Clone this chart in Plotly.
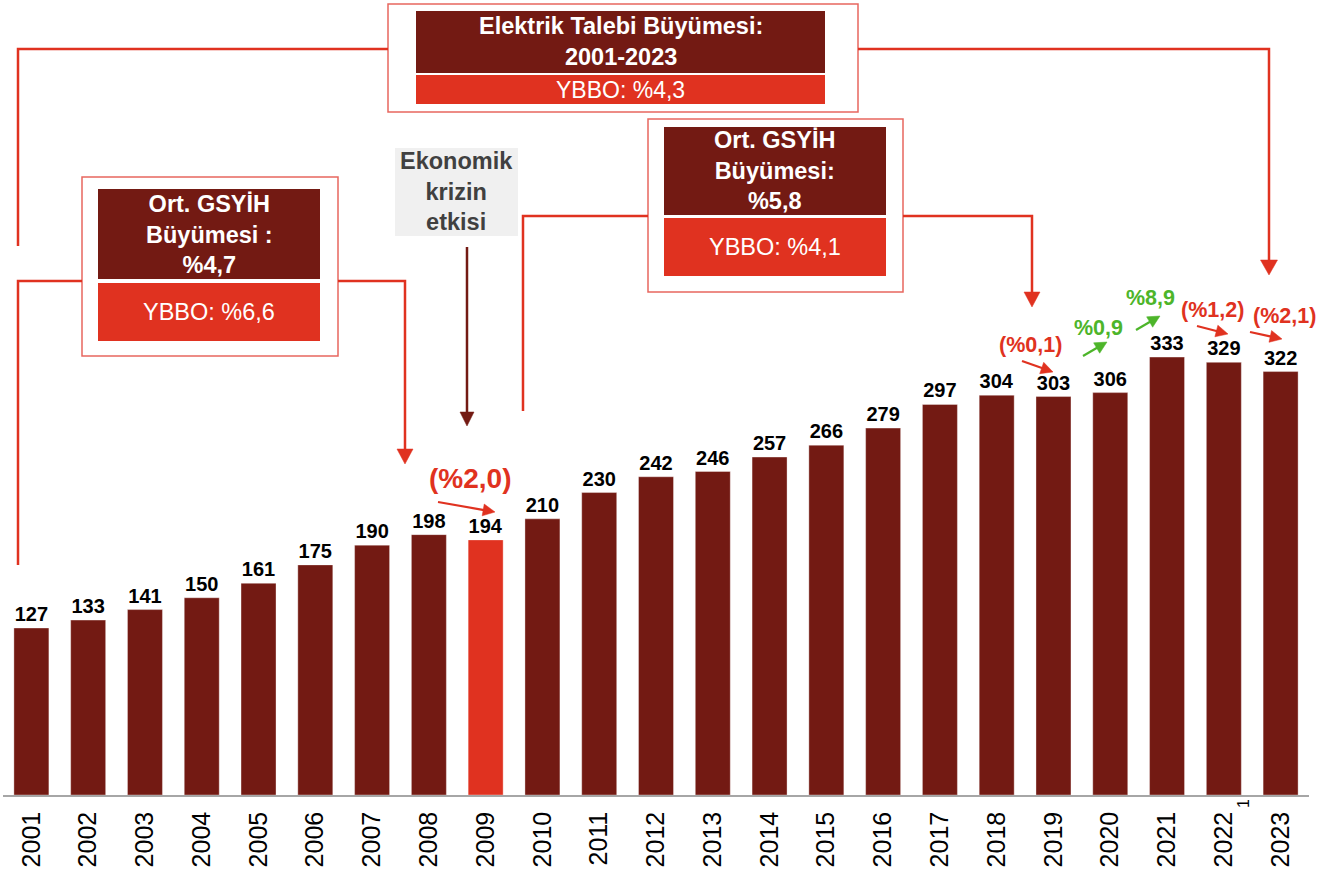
import math
import plotly.graph_objects as go

# ---------------- data ----------------
years = [str(y) for y in range(2001, 2024)]
demand = [127, 133, 141, 150, 161, 175, 190, 198, 194, 210, 230, 242,
          246, 257, 266, 279, 297, 304, 303, 306, 333, 329, 322]
highlight_year = "2009"

growth_labels = ["(%2,0)", "(%0,1)", "%0,9", "%8,9", "(%1,2)", "(%2,1)"]
growth_positive = [False, False, True, True, False, False]

box_titles = ["Elektrik Talebi Büyümesi:<br>2001-2023",
              "Ort. GSYİH<br>Büyümesi :<br>%4,7",
              "Ort. GSYİH<br>Büyümesi:<br>%5,8"]
box_ybbo = ["YBBO: %4,3", "YBBO: %6,6", "YBBO: %4,1"]
crisis_label = "Ekonomik<br>krizin<br>etkisi"

# ---------------- style ----------------
DARK = "#731A13"
RED = "#E03220"
GREEN = "#4DB52A"
BORDER = "#E8675F"
FONT = "Liberation Sans, Arial, sans-serif"

W, H = 1326, 873
L, T, PW, PH = 3, 0, 1306, 795


def fx(x):
    return (x - L) / PW


def fy(y):
    return (T + PH - y) / PH


shapes = []
annotations = []


def rect(x0, y0, x1, y1, fill=None, line=None, lw=0):
    shapes.append(dict(type="rect", xref="paper", yref="paper",
                       x0=fx(x0), x1=fx(x1), y0=fy(y1), y1=fy(y0),
                       fillcolor=fill or "rgba(0,0,0,0)",
                       line=dict(color=line or "rgba(0,0,0,0)", width=lw),
                       layer="above"))


def poly(points, color, lw):
    path = "M " + " L ".join(f"{fx(x):.5f},{fy(y):.5f}" for x, y in points)
    shapes.append(dict(type="path", xref="paper", yref="paper", path=path,
                       line=dict(color=color, width=lw), layer="above"))


def arrow(points, color, lw, hl, hw):
    (x0, y0), (x1, y1) = points[-2], points[-1]
    dx, dy = x1 - x0, y1 - y0
    d = math.hypot(dx, dy)
    ux, uy = dx / d, dy / d
    bx, by = x1 - ux * hl, y1 - uy * hl
    poly(points[:-1] + [(bx + ux, by + uy)], color, lw)
    nx, ny = -uy, ux
    tri = [(x1, y1), (bx + nx * hw / 2, by + ny * hw / 2), (bx - nx * hw / 2, by - ny * hw / 2)]
    path = "M " + " L ".join(f"{fx(x):.5f},{fy(y):.5f}" for x, y in tri) + " Z"
    shapes.append(dict(type="path", xref="paper", yref="paper", path=path,
                       fillcolor=color, line=dict(color=color, width=0.5), layer="above"))


def text(x, y, s, size, color, bold=False):
    annotations.append(dict(x=fx(x), y=fy(y), xref="paper", yref="paper",
                            text=s, showarrow=False, xanchor="center", yanchor="middle",
                            font=dict(family=FONT, size=size, color=color,
                                      weight="bold" if bold else "normal")))


# ---------------- bars ----------------
fig = go.Figure(go.Bar(
    x=years, y=demand,
    marker=dict(color=[RED if y == highlight_year else DARK for y in years],
                line=dict(color="rgba(255,255,255,0.35)", width=1)),
    text=demand, textposition="outside",
    textfont=dict(family=FONT, size=20, color="black", weight="bold"),
    cliponaxis=False, hoverinfo="skip",
))

# ---------------- boxes ----------------
# Box 1 (top)
rect(388, 4, 858, 112, line=BORDER, lw=1.5)
rect(416, 11, 825, 73, fill=DARK)
rect(416, 75, 825, 104, fill=RED)
text(620.5, 42, box_titles[0], 23.5, "white", True)
text(620.5, 90, box_ybbo[0], 23, "white")

# Box 2 (left)
rect(82, 177, 338, 356, line=BORDER, lw=1.5)
rect(98, 189, 320, 279, fill=DARK)
rect(98, 283, 320, 341, fill=RED)
text(209, 234, box_titles[1], 23.5, "white", True)
text(209, 312, box_ybbo[1], 23.5, "white")

# Box 3 (middle)
rect(648, 119, 903, 292, line=BORDER, lw=1.5)
rect(664, 127, 886, 215, fill=DARK)
rect(664, 218, 886, 276, fill=RED)
text(775, 171, box_titles[2], 23.5, "white", True)
text(775, 247, box_ybbo[2], 23.5, "white")

# Crisis box
rect(395, 148, 518, 236, fill="#F0F0F0")
text(456.5, 192, crisis_label, 23.5, "#404040", True)

# ---------------- connectors ----------------
poly([(18, 246), (18, 49), (388, 49)], RED, 2.5)
arrow([(858, 49), (1269, 49), (1269, 275)], RED, 2.5, 15, 17)
poly([(18, 565), (18, 281), (82, 281)], RED, 2.5)
arrow([(338, 281), (405, 281), (405, 464)], RED, 2.5, 15, 16)
poly([(523, 411), (523, 216), (648, 216)], RED, 2.5)
arrow([(903, 216), (1032, 216), (1032, 307)], RED, 2.5, 15, 16)
arrow([(467, 247), (467, 426)], DARK, 2.5, 14, 14)

# ---------------- growth annotations ----------------
label_pos = [(470, 478), (1030, 345), (1098, 328), (1150, 298), (1212, 310), (1284, 316)]
label_size = [28, 21.5, 21.5, 21.5, 21.5, 21.5]
arrow_pts = [((438, 502), (495, 512)), ((1022, 361), (1053, 372)),
             ((1083, 356), (1107, 342)), ((1136, 330), (1160, 316)),
             ((1197, 326), (1228, 334)), ((1250, 332), (1282, 339))]
for lab, pos, sz, pts, posv in zip(growth_labels, label_pos, label_size, arrow_pts, growth_positive):
    c = GREEN if posv else RED
    text(pos[0], pos[1], lab, sz, c, True)
    arrow([pts[0], pts[1]], c, 2.2, 12, 12)

# footnote marker
annotations.append(dict(x=fx(1243), y=fy(804), xref="paper", yref="paper", text="1",
                        showarrow=False, textangle=-90, xanchor="center", yanchor="middle",
                        font=dict(family=FONT, size=16, color="black")))

fig.update_layout(
    width=W, height=H,
    margin=dict(l=L, r=W - L - PW, t=T, b=H - T - PH, autoexpand=False),
    paper_bgcolor="white", plot_bgcolor="white",
    bargap=0.384, showlegend=False,
    shapes=shapes, annotations=annotations,
    xaxis=dict(type="category", range=[-0.5, len(years) - 0.5],
               showline=True, linecolor="#A6A6A6", linewidth=1.5,
               tickangle=-90, tickfont=dict(family=FONT, size=25, color="black"),
               ticks="outside", ticklen=5, tickcolor="rgba(0,0,0,0)",
               showgrid=False, zeroline=False, automargin=False, fixedrange=True),
    yaxis=dict(range=[0, PH / 1.315], visible=False, showgrid=False,
               zeroline=False, fixedrange=True),
)

fig.write_html("out.html", config={"displayModeBar": False},
               post_script="document.body.style.margin='0';document.body.style.overflow='hidden';")
